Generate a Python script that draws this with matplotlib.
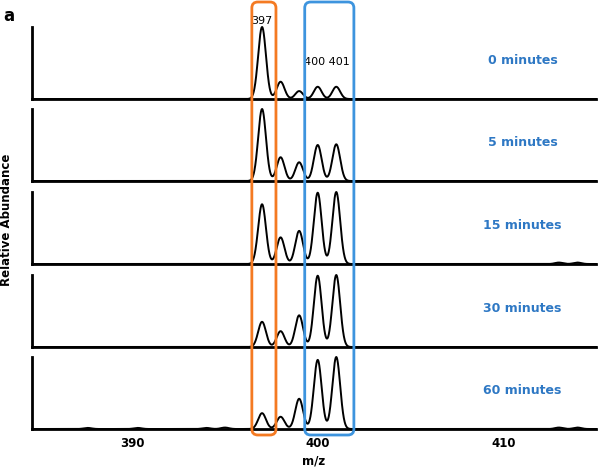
import numpy as np
import matplotlib
matplotlib.use('Agg')
import matplotlib.pyplot as plt
from matplotlib.patches import FancyBboxPatch

# peak list (m/z, relative height per time point)
times = ['0 minutes', '5 minutes', '15 minutes', '30 minutes', '60 minutes']
peak_mz = [397, 398, 399, 400, 401]
heights = [
    [1.00, 0.24, 0.11, 0.17, 0.17],
    [1.00, 0.33, 0.26, 0.50, 0.51],
    [0.83, 0.37, 0.46, 0.99, 1.00],
    [0.35, 0.22, 0.44, 0.99, 1.00],
    [0.22, 0.17, 0.42, 0.96, 1.00],
]
# tiny baseline bumps
noise_mz = [[], [], [413.0, 414.0], [], [387.6, 390.3, 394.0, 395.0, 413.0, 414.0]]
noise_h = [[], [], [0.02, 0.02], [], [0.015, 0.015, 0.015, 0.02, 0.02, 0.02]]

xticks = [390, 400, 410]
xlim = (384.6, 415.0)
sigma = 0.21

W, H = 600, 468
fig = plt.figure(figsize=(W / 100, H / 100), dpi=100)

baselines = [99, 181, 264, 347, 429]
panel_h = 72
left, right = 32, 596

axes = []
x = np.linspace(xlim[0], xlim[1], 4000)
for i, t in enumerate(times):
    ax = fig.add_axes([left / W, 1 - baselines[i] / H, (right - left) / W, panel_h / H])
    y = np.zeros_like(x)
    for m, h in zip(peak_mz + noise_mz[i], heights[i] + noise_h[i]):
        y += h * np.exp(-0.5 * ((x - m) / sigma) ** 2)
    ax.plot(x, y, color='black', lw=1.4, clip_on=False, zorder=3)
    ax.set_xlim(*xlim)
    ax.set_ylim(0, 1.0)
    for s in ['top', 'right']:
        ax.spines[s].set_visible(False)
    ax.spines['left'].set_linewidth(2)
    ax.spines['bottom'].set_linewidth(2)
    ax.set_yticks([])
    ax.text(0.87, 0.54, t, transform=ax.transAxes, color='#2E78C4',
            fontsize=9, fontweight='bold', ha='center', va='center')
    if i < len(times) - 1:
        ax.set_xticks([])
    else:
        ax.set_xticks(xticks)
        ax.set_xticklabels([str(v) for v in xticks], fontsize=8.5, fontweight='bold')
        ax.tick_params(axis='x', length=0, pad=6)
        ax.set_xlabel('m/z', fontsize=8.5, fontweight='bold', labelpad=3)
    axes.append(ax)

# peak annotations
ax0 = axes[0]
ax0.text(397, 1.02, '397', fontsize=8, ha='center', va='bottom')
ax0.text(400.5, 0.45, '400 401', fontsize=8, ha='center', va='bottom')

# highlight boxes (x in m/z, y in pixels)
inv = fig.transFigure.inverted()
def box(x0, x1, color):
    fx0 = inv.transform(ax0.transData.transform((x0, 0)))[0]
    fx1 = inv.transform(ax0.transData.transform((x1, 0)))[0]
    top, bot = 1 - 2 / H, 1 - 435 / H
    p = FancyBboxPatch((fx0, bot), fx1 - fx0, top - bot,
                       boxstyle='round,pad=0,rounding_size=%f' % (6 / W),
                       mutation_aspect=W / H, transform=fig.transFigure,
                       fill=False, edgecolor=color, lw=2, zorder=10)
    fig.patches.append(p)

box(396.45, 397.75, '#F47A22')
box(399.3, 401.95, '#3D94DE')

fig.text(0.006, 0.985, 'a', fontsize=12, fontweight='bold', va='top')
fig.text(7 / W, 1 - 220 / H, 'Relative Abundance', rotation=90, fontsize=8.5,
         fontweight='bold', ha='center', va='center')

plt.savefig('out.png', dpi=100)
